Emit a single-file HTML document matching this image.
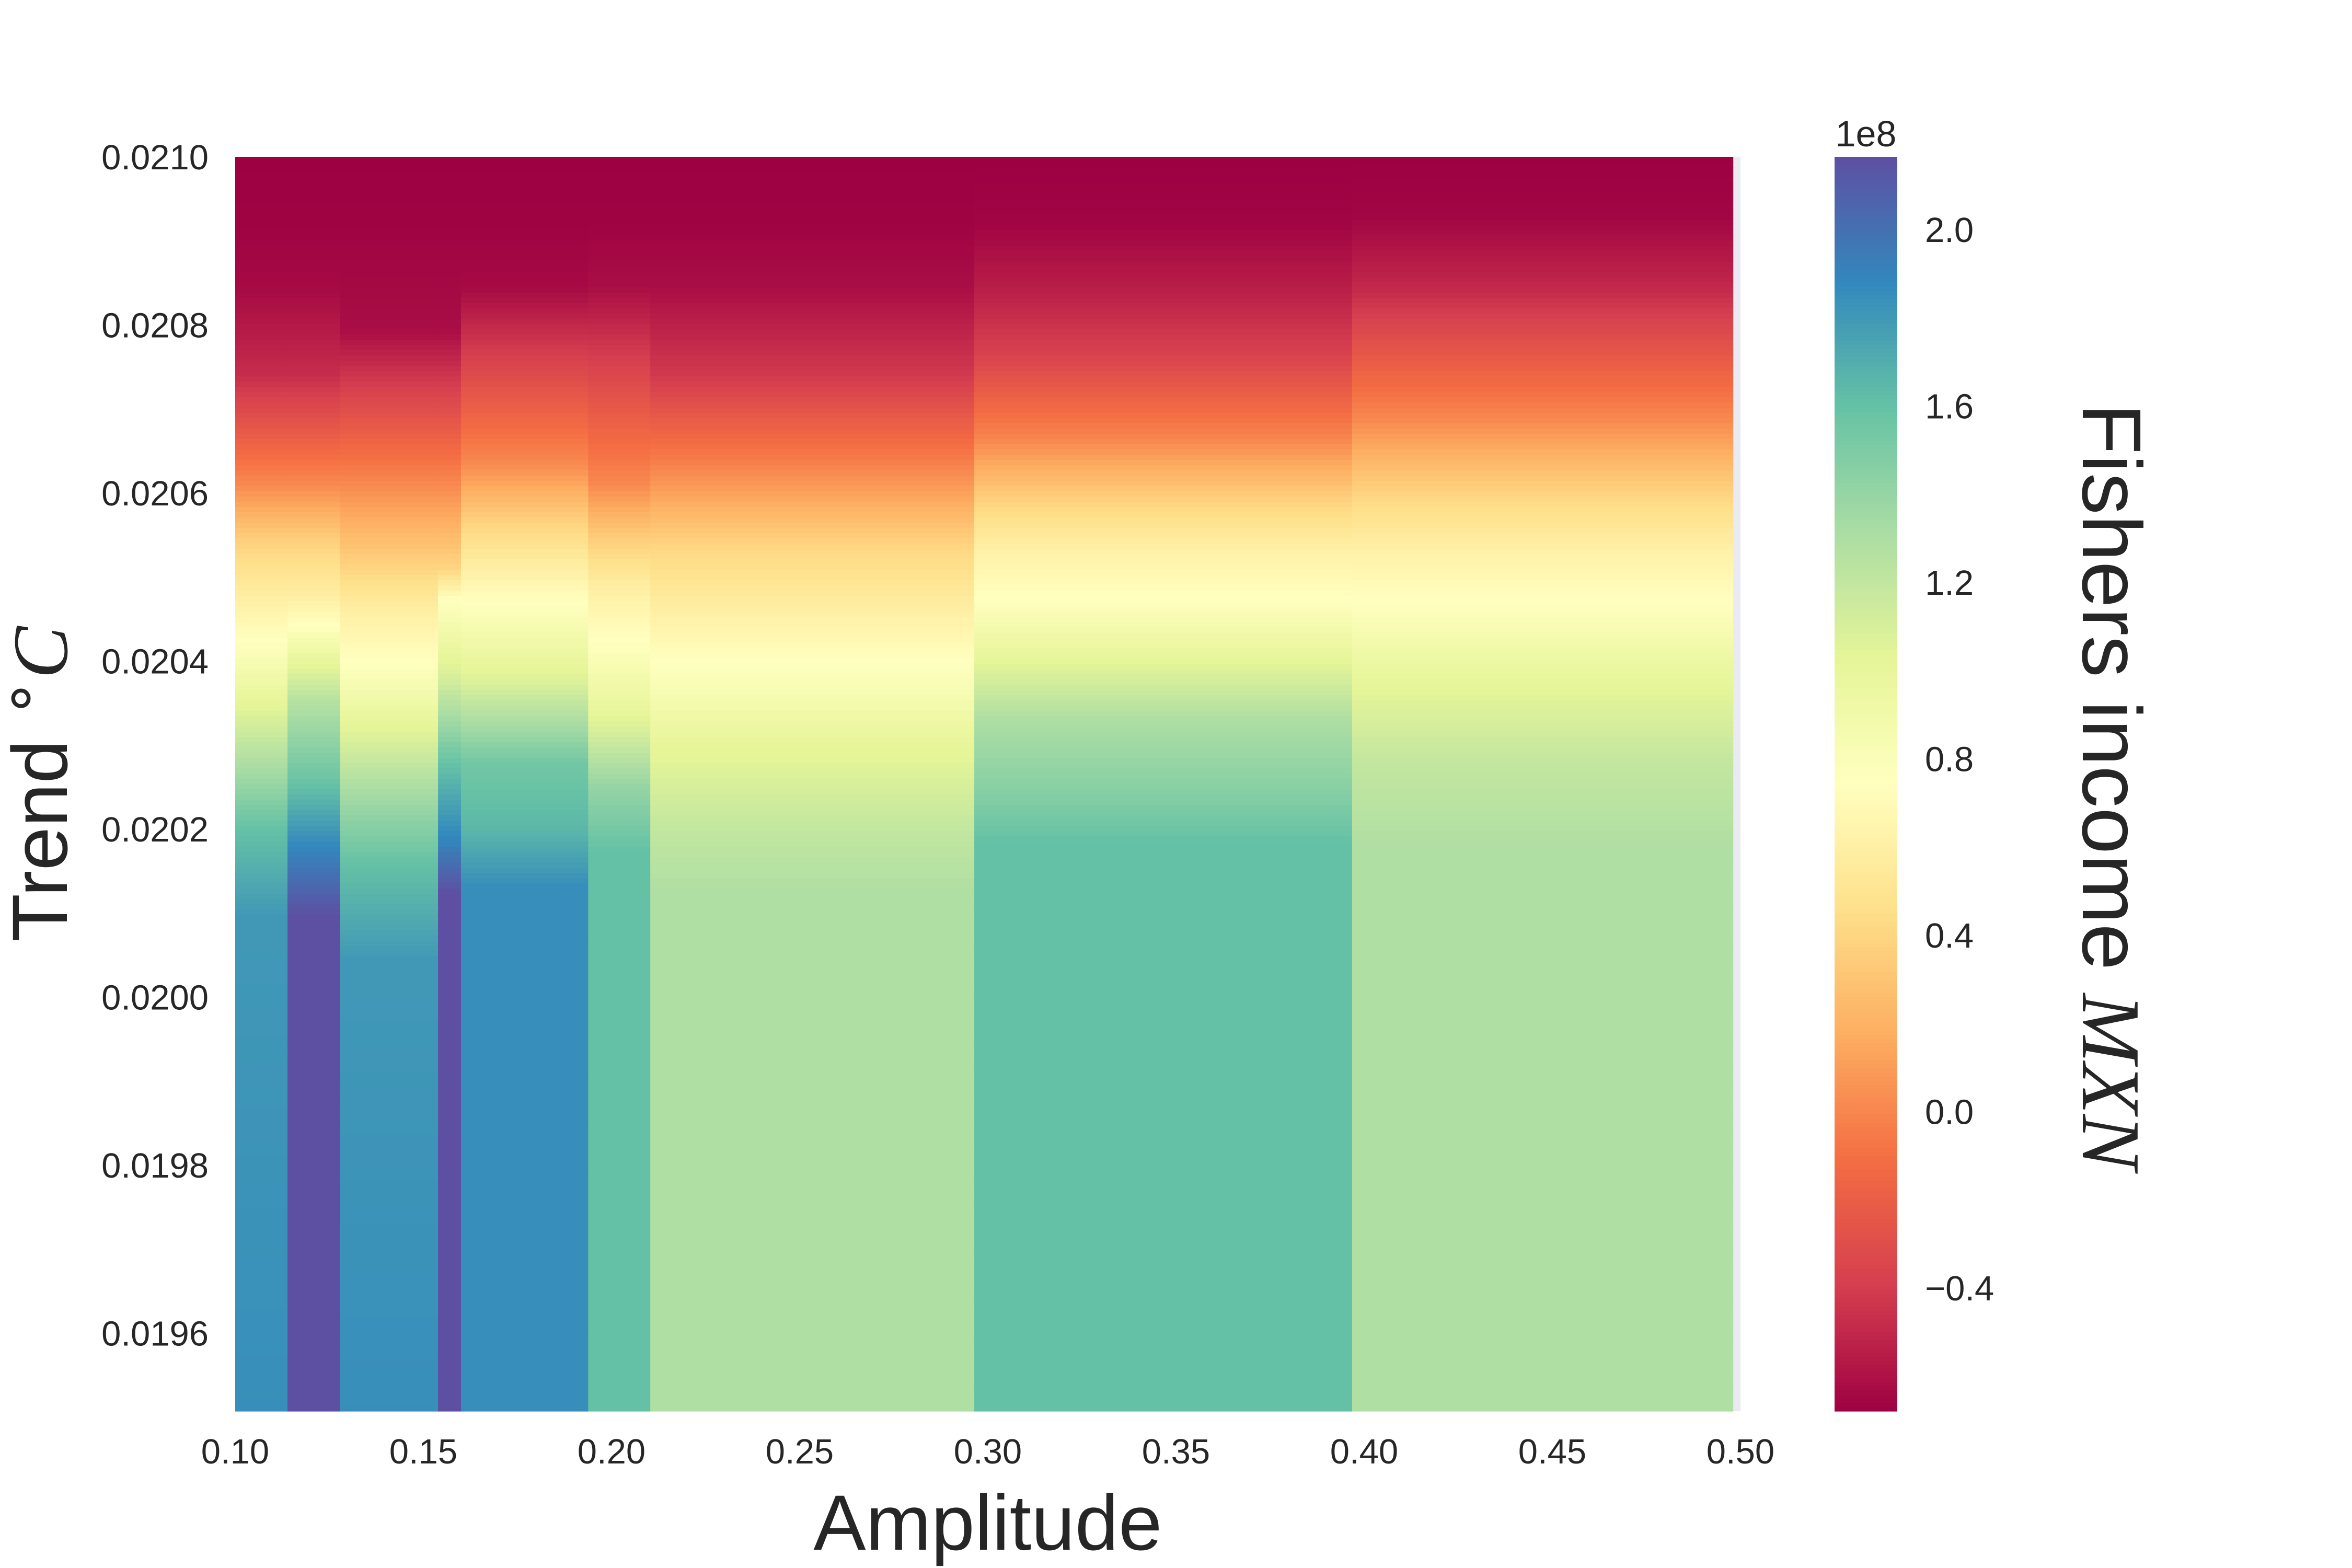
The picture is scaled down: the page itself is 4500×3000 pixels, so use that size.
<!DOCTYPE html>
<html><head><meta charset="utf-8"><style>
html,body{margin:0;padding:0;background:#fff;}
svg{display:block;font-family:"Liberation Sans",Arial,sans-serif;}
</style></head><body>
<svg id="chart" width="4500" height="3000" viewBox="0 0 4500 3000" xmlns="http://www.w3.org/2000/svg">
<rect x="0" y="0" width="4500" height="3000" fill="#ffffff"/>
<rect x="450" y="300" width="2880" height="2400" fill="#eaeaf2"/>
<g id="cells"></g>
<g id="cbar"></g>
<g id="axes"></g>
<text x="1890" y="2965" font-size="150" text-anchor="middle" fill="#262626">Amplitude</text>
<text transform="translate(128,1500) rotate(-90)" font-size="150" text-anchor="middle" fill="#262626">Trend <tspan font-family="'Liberation Serif',serif" font-size="120" dy="-50">∘</tspan><tspan font-family="'Liberation Serif',serif" font-style="italic" dy="50">C</tspan></text>
<text transform="translate(3985,1505) rotate(90)" font-size="160" text-anchor="middle" fill="#262626">Fishers income <tspan font-family="'Liberation Serif',serif" font-style="italic">MXN</tspan></text>
<text x="3570" y="280" font-size="70" text-anchor="middle" fill="#262626">1e8</text>
</svg>
<script>
// ---- data ----
const colEdges = [0.10, 0.1139, 0.1279, 0.1539, 0.160, 0.1938, 0.2103, 0.2964, 0.3968, 0.498];
const trendStops = [
  [0.0210, 0.020919, 0.020845, 0.020741, 0.020613, 0.020535, 0.020473, 0.020422, 0.020355, 0.020277, 0.020200, 0.020097, 0.0195],
  [0.0210, 0.020919, 0.020845, 0.020741, 0.020613, 0.020535, 0.020473, 0.020442, 0.020355, 0.020251, 0.020174, 0.020097, 0.0195],
  [0.0210, 0.020919, 0.020793, 0.020613, 0.020509, 0.020458, 0.020396, 0.020329, 0.020251, 0.020159, 0.020045, 0.0195],
  [0.0210, 0.020919, 0.020793, 0.020613, 0.020509, 0.020473, 0.020381, 0.020277, 0.020185, 0.020123, 0.0195],
  [0.0210, 0.020919, 0.020845, 0.020638, 0.020561, 0.020509, 0.020468, 0.020381, 0.020277, 0.020200, 0.020133, 0.0195],
  [0.0210, 0.020919, 0.020845, 0.020613, 0.020535, 0.020484, 0.020422, 0.020339, 0.020251, 0.020174, 0.0195],
  [0.0210, 0.020919, 0.020845, 0.020741, 0.020628, 0.020535, 0.020458, 0.020396, 0.020303, 0.020200, 0.020123, 0.0195],
  [0.0210, 0.020919, 0.020845, 0.020767, 0.020664, 0.020586, 0.020535, 0.020473, 0.020406, 0.020329, 0.020251, 0.020185, 0.0195],
  [0.0210, 0.020930, 0.020845, 0.020690, 0.020597, 0.020535, 0.020468, 0.020381, 0.020277, 0.020174, 0.0195]
];
const valueStops = [
  [-0.68, -0.67, -0.64, -0.48, 0.0, 0.4, 0.6, 0.75, 1.0, 1.3, 1.6, 1.8, 1.85],
  [-0.68, -0.67, -0.64, -0.48, 0.0, 0.4, 0.6, 0.75, 1.25, 1.6, 1.9, 2.16, 2.16],
  [-0.68, -0.67, -0.62, 0.0, 0.4, 0.6, 0.75, 1.0, 1.3, 1.6, 1.8, 1.85],
  [-0.68, -0.67, -0.62, 0.0, 0.4, 0.75, 1.1, 1.6, 1.9, 2.16, 2.16],
  [-0.68, -0.67, -0.64, 0.0, 0.4, 0.6, 0.75, 1.05, 1.55, 1.65, 1.85, 1.85],
  [-0.68, -0.67, -0.62, 0.0, 0.4, 0.6, 0.75, 1.0, 1.4, 1.6, 1.6],
  [-0.68, -0.67, -0.62, -0.42, 0.0, 0.4, 0.6, 0.75, 1.0, 1.2, 1.29, 1.29],
  [-0.68, -0.66, -0.55, -0.38, 0.0, 0.4, 0.6, 0.75, 1.0, 1.3, 1.45, 1.6, 1.6],
  [-0.68, -0.66, -0.50, 0.0, 0.4, 0.6, 0.75, 1.0, 1.2, 1.29, 1.29]
];
const xTicks = [0.10, 0.15, 0.20, 0.25, 0.30, 0.35, 0.40, 0.45, 0.50];
const xTickLabels = ["0.10","0.15","0.20","0.25","0.30","0.35","0.40","0.45","0.50"];
const yTicks = [0.0196, 0.0198, 0.0200, 0.0202, 0.0204, 0.0206, 0.0208, 0.0210];
const yTickLabels = ["0.0196","0.0198","0.0200","0.0202","0.0204","0.0206","0.0208","0.0210"];
const cbTicks = [-0.4, 0.0, 0.4, 0.8, 1.2, 1.6, 2.0];
const cbTickLabels = ["\u22120.4","0.0","0.4","0.8","1.2","1.6","2.0"];
const vMin = -0.68, vMax = 2.165;

// ---- scales ----
const PX0 = 450, PX1 = 3330, PY0 = 300, PY1 = 2700;
const xMin = 0.10, xMax = 0.50, yTop = 0.0210, yBot = 0.019507;
function xScale(v){ return PX0 + (v - xMin) / (xMax - xMin) * (PX1 - PX0); }
function yScale(v){ return PY0 + (yTop - v) / (yTop - yBot) * (PY1 - PY0); }
function cScale(v){ return PY0 + (vMax - v) / (vMax - vMin) * (PY1 - PY0); }

const spectral = ["#9e0142","#d53e4f","#f46d43","#fdae61","#fee08b","#ffffbf","#e6f598","#abdda4","#66c2a5","#3288bd","#5e4fa2"];
const specRGB = spectral.map(h => [parseInt(h.substr(1,2),16),parseInt(h.substr(3,2),16),parseInt(h.substr(5,2),16)]);
function cmap(v){
  let t = (v - vMin) / (vMax - vMin); t = Math.max(0, Math.min(1, t));
  const f = t * 10, i = Math.min(9, Math.floor(f)), r = f - i;
  const a = specRGB[i], b = specRGB[i+1];
  return "rgb(" + [0,1,2].map(k => Math.round(a[k] + (b[k]-a[k])*r)).join(",") + ")";
}
function valueAt(ts, vs, t){
  if (t >= ts[0]) return vs[0];
  for (let i = 1; i < ts.length; i++){
    if (t >= ts[i]) { const r = (ts[i-1]-t)/(ts[i-1]-ts[i]); return vs[i-1] + (vs[i]-vs[i-1])*r; }
  }
  return vs[vs.length-1];
}

const NS = "http://www.w3.org/2000/svg";
const cells = document.getElementById("cells");
const nRows = 240;
for (let c = 0; c < colEdges.length - 1; c++){
  const x0 = xScale(colEdges[c]), x1 = xScale(colEdges[c+1]);
  for (let r = 0; r < nRows; r++){
    const t0 = yTop - (yTop - yBot) * r / nRows;
    const t1 = yTop - (yTop - yBot) * (r + 1) / nRows;
    const v = valueAt(trendStops[c], valueStops[c], (t0 + t1) / 2);
    const rect = document.createElementNS(NS, "rect");
    rect.setAttribute("x", x0.toFixed(2));
    rect.setAttribute("y", yScale(t0).toFixed(2));
    rect.setAttribute("width", (x1 - x0 + 0.6).toFixed(2));
    rect.setAttribute("height", (yScale(t1) - yScale(t0) + 0.6).toFixed(2));
    rect.setAttribute("fill", cmap(v));
    
    
    cells.appendChild(rect);
  }
}

// colorbar
const cbar = document.getElementById("cbar");
const cbN = 300;
for (let i = 0; i < cbN; i++){
  const v0 = vMax - (vMax - vMin) * i / cbN, v1 = vMax - (vMax - vMin) * (i + 1) / cbN;
  const rect = document.createElementNS(NS, "rect");
  rect.setAttribute("x", 3510);
  rect.setAttribute("y", cScale(v0).toFixed(2));
  rect.setAttribute("width", 120);
  rect.setAttribute("height", (cScale(v1) - cScale(v0) + 0.6).toFixed(2));
  rect.setAttribute("fill", cmap((v0 + v1) / 2));
  
  
  cbar.appendChild(rect);
}
cbTicks.forEach((v, i) => {
  const t = document.createElementNS(NS, "text");
  t.setAttribute("x", 3683);
  t.setAttribute("y", (cScale(v) + 24).toFixed(1));
  t.setAttribute("font-size", "67");
  t.setAttribute("fill", "#262626");
  t.textContent = cbTickLabels[i];
  
  
  cbar.appendChild(t);
});

// axes ticks
const axes = document.getElementById("axes");
xTicks.forEach((v, i) => {
  const t = document.createElementNS(NS, "text");
  t.setAttribute("x", xScale(v).toFixed(1));
  t.setAttribute("y", 2800);
  t.setAttribute("font-size", "67");
  t.setAttribute("text-anchor", "middle");
  t.setAttribute("fill", "#262626");
  t.textContent = xTickLabels[i];
  
  
  axes.appendChild(t);
});
yTicks.forEach((v, i) => {
  const t = document.createElementNS(NS, "text");
  t.setAttribute("x", 399);
  t.setAttribute("y", (yScale(v) + 24).toFixed(1));
  t.setAttribute("font-size", "67");
  t.setAttribute("text-anchor", "end");
  t.setAttribute("fill", "#262626");
  t.textContent = yTickLabels[i];
  
  
  axes.appendChild(t);
});
</script>
</body></html>
